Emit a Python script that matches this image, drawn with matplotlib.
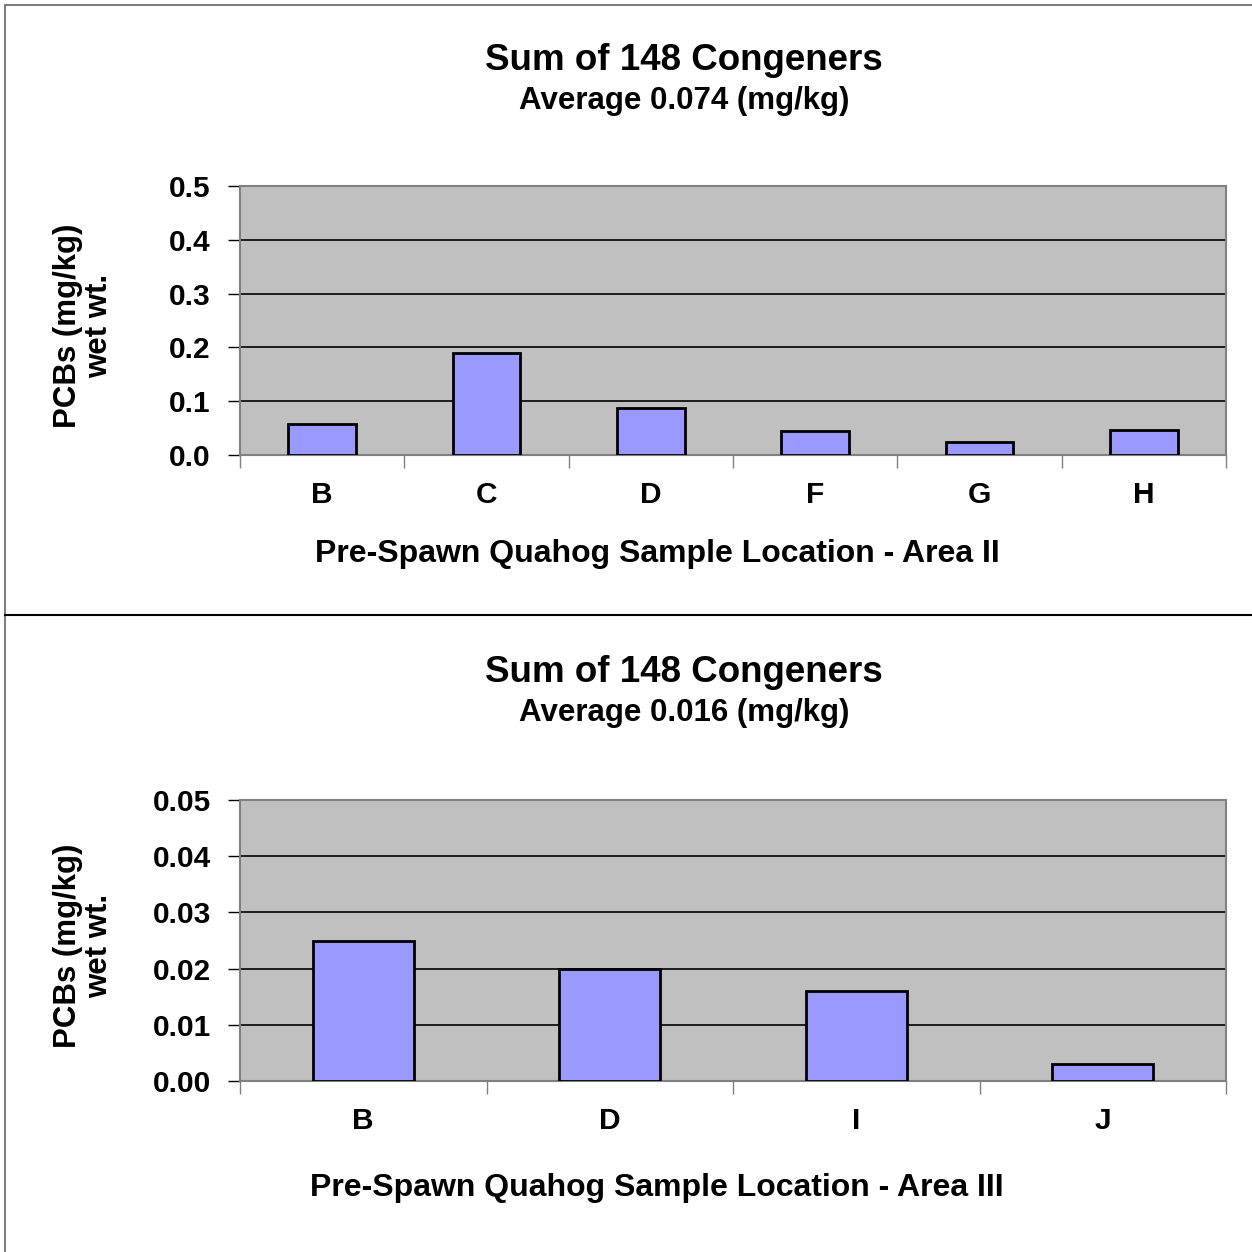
import matplotlib
matplotlib.use("Agg")
import matplotlib.pyplot as plt
from matplotlib.lines import Line2D
import numpy as np

plt.rcParams['font.family'] = ['Liberation Sans', 'DejaVu Sans']
plt.rcParams['font.weight'] = 'bold'

# Data
cats_a2 = ['B', 'C', 'D', 'F', 'G', 'H']
vals_a2 = [0.057, 0.190, 0.087, 0.045, 0.025, 0.047]
cats_a3 = ['B', 'D', 'I', 'J']
vals_a3 = [0.025, 0.020, 0.016, 0.003]
title = "Sum of 148 Congeners"
sub_a2 = "Average 0.074 (mg/kg)"
sub_a3 = "Average 0.016 (mg/kg)"
xlab_a2 = "Pre-Spawn Quahog Sample Location - Area II"
xlab_a3 = "Pre-Spawn Quahog Sample Location - Area III"
ylab = "PCBs (mg/kg)\nwet wt."
yticks_a2 = [0.0, 0.1, 0.2, 0.3, 0.4, 0.5]
yticks_a3 = [0.00, 0.01, 0.02, 0.03, 0.04, 0.05]

W = H = 1252
fig = plt.figure(figsize=(12.52, 12.52), dpi=100)

def fx(px):
    return px / W

def fy(py):
    return 1 - py / H

# Frame lines
fig.add_artist(Line2D([fx(5), fx(5)], [fy(5), fy(1252)], color='#808080', lw=1.5))
fig.add_artist(Line2D([fx(5), 1], [fy(5), fy(5)], color='#808080', lw=1.5))
fig.add_artist(Line2D([fx(5), 1], [fy(615), fy(615)], color='black', lw=1.5))

def panel(top, bottom, cats, vals, yticks, fmt, sub, xlab, title_y, sub_y, xlab_y, ylab_y):
    left, right = 240, 1226
    ax = fig.add_axes([fx(left), fy(bottom), fx(right - left), (bottom - top) / H])
    ax.set_facecolor('#C0C0C0')
    n = len(cats)
    x = np.arange(n)
    ax.bar(x, vals, width=0.41, color='#9999FF', edgecolor='black', linewidth=2, zorder=3)
    ax.set_xlim(-0.5, n - 0.5)
    ax.set_ylim(yticks[0], yticks[-1])
    ax.set_yticks(yticks)
    ax.set_yticklabels([fmt.format(v) for v in yticks], fontsize=21.5, fontweight='bold')
    ax.yaxis.grid(True, color='black', lw=1.2, zorder=1)
    ax.set_axisbelow(True)
    ax.set_xticks(np.arange(n + 1) - 0.5)
    ax.set_xticklabels([])
    ax.set_xticks(x, minor=True)
    ax.set_xticklabels(cats, minor=True, fontsize=21.5, fontweight='bold')
    ax.tick_params(axis='x', which='major', length=9, width=1, color='#808080', direction='out')
    ax.tick_params(axis='x', which='minor', length=0, pad=19)
    ax.tick_params(axis='y', length=9, width=1, color='black', direction='out', pad=12)
    for s in ['top', 'right', 'left', 'bottom']:
        ax.spines[s].set_color('#808080')
        ax.spines[s].set_linewidth(1.5)
    fig.text(fx(684), fy(title_y), title, ha='center', va='center', fontsize=26.5, fontweight='bold')
    fig.text(fx(684), fy(sub_y), sub, ha='center', va='center', fontsize=22.5, fontweight='bold')
    fig.text(fx(657), fy(xlab_y), xlab, ha='center', va='center', fontsize=23, fontweight='bold')
    fig.text(fx(84), fy(ylab_y), ylab, ha='center', va='center', rotation=90, fontsize=22.5,
             fontweight='bold', linespacing=1.05)
    return ax

panel(186, 455, cats_a2, vals_a2, yticks_a2, "{:.1f}", sub_a2, xlab_a2, 61, 101, 554, 326)
panel(800, 1081, cats_a3, vals_a3, yticks_a3, "{:.2f}", sub_a3, xlab_a3, 673, 713, 1188, 946)

fig.savefig('out.png', dpi=100, facecolor='white')
